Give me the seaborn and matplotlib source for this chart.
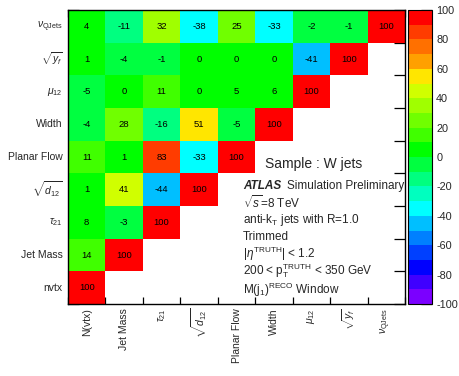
import numpy as np
import pandas as pd
import matplotlib
matplotlib.use("Agg")
import matplotlib.pyplot as plt
from matplotlib.colors import ListedColormap
import seaborn as sns

sns.set_style("white")
plt.rcParams['font.family'] = ['Liberation Sans', 'DejaVu Sans']
plt.rcParams['mathtext.fontset'] = 'custom'
plt.rcParams['mathtext.rm'] = 'Liberation Sans'
plt.rcParams['mathtext.it'] = 'Liberation Sans:italic'
plt.rcParams['mathtext.bf'] = 'Liberation Sans:bold'
plt.rcParams['axes.unicode_minus'] = False

# ---- data ----
row_labels = [r'$\nu_{\mathrm{QJets}}$', r'$\sqrt{y_{f}}$', r'$\mu_{12}$', 'Width',
              'Planar Flow', r'$\sqrt{d_{12}}$', r'$\tau_{21}$', 'Jet Mass', 'nvtx']
col_labels = ['N(vtx)', 'Jet Mass', r'$\tau_{21}$', r'$\sqrt{d_{12}}$', 'Planar Flow',
              'Width', r'$\mu_{12}$', r'$\sqrt{y_{f}}$', r'$\nu_{\mathrm{QJets}}$']

row_nu = [4, -11, 32, -38, 25, -33, -2, -1, 100]
row_yf = [1, -4, -1, 0, 0, 0, -41, 100]
row_mu = [-5, 0, 11, 0, 5, 6, 100]
row_width = [-4, 28, -16, 51, -5, 100]
row_pf = [11, 1, 83, -33, 100]
row_d12 = [1, 41, -44, 100]
row_tau = [8, -3, 100]
row_mass = [14, 100]
row_nvtx = [100]

rows = [row_nu, row_yf, row_mu, row_width, row_pf, row_d12, row_tau, row_mass, row_nvtx]
n = len(col_labels)
mat = np.full((len(rows), n), np.nan)
for i, r in enumerate(rows):
    mat[i, :len(r)] = r
df = pd.DataFrame(mat, index=row_labels, columns=col_labels)
mask = np.isnan(mat)

palette = ['#7B00FF', '#3F00FF', '#0000FF', '#0040FF', '#0080FF', '#00BFFF',
           '#00FFFF', '#00FFBF', '#00FF80', '#00FF40', '#00FF00', '#40FF00',
           '#70FF00', '#A0FF00', '#D0FF00', '#FFE600', '#FFA000', '#FF7000',
           '#FF3C00', '#FF0000']
cmap = ListedColormap(palette)

W, H = 459, 376
fig = plt.figure(figsize=(W / 100, H / 100), dpi=100)
ax = fig.add_axes([68 / W, 1 - 304 / H, (405 - 68) / W, (304 - 10) / H])
cax = fig.add_axes([408 / W, 1 - 304 / H, 24 / W, 294 / H])

sns.heatmap(df, mask=mask, cmap=cmap, vmin=-100, vmax=100, annot=True, fmt='.0f',
            annot_kws={'size': 6.8, 'color': 'black'}, cbar_ax=cax, ax=ax,
            linewidths=0)

ax.set_xticklabels(col_labels, rotation=90, fontsize=7.5)
ax.set_yticklabels(row_labels, rotation=0, fontsize=7.5)
ax.set_xlabel('')
ax.set_ylabel('')
ax.tick_params(which='major', length=0)
ax.tick_params(axis='x', which='major', pad=3)
ax.tick_params(axis='y', which='major', pad=4)
ax.set_xticks(np.arange(n + 1), minor=True)
ax.set_yticks(np.arange(len(rows) + 1), minor=True)
ax.tick_params(which='minor', direction='in', top=True, right=True, bottom=True, left=True,
               width=0.9, color='black')
ax.xaxis.set_tick_params(which='minor', length=5)
ax.yaxis.set_tick_params(which='minor', length=8)
for s in ax.spines.values():
    s.set_visible(True)
    s.set_linewidth(1.0)
    s.set_color('black')

cbar = ax.collections[0].colorbar
cbar.set_ticks(list(range(-100, 101, 20)))
cbar.outline.set_linewidth(0.8)
cbar.outline.set_edgecolor('black')
cax.tick_params(direction='in', length=8, width=0.9, labelsize=7.8, right=True, left=False,
                pad=3, color='black')

def px(x, y):
    return x / W, 1 - y / H

fig.text(*px(265, 164), 'Sample : W jets', fontsize=10, va='center', ha='left')
fig.text(*px(243, 186), 'ATLAS', fontsize=8.5, fontweight='bold', fontstyle='italic',
         va='center', ha='left')
fig.text(*px(287, 186), 'Simulation Preliminary', fontsize=8.5, va='center', ha='left')
lines = [(203, r'$\sqrt{s}$=8 TeV'),
         (220, r'anti-k$_{\mathrm{T}}$ jets with R=1.0'),
         (237, 'Trimmed'),
         (254, r'|$\eta^{\mathrm{TRUTH}}$| < 1.2'),
         (271, r'200 < p$_{\mathrm{T}}^{\mathrm{TRUTH}}$ < 350 GeV'),
         (290, r'M(j$_{1}$)$^{\mathrm{RECO}}$ Window')]
for y, t in lines:
    fig.text(*px(243, y), t, fontsize=8.5, va='center', ha='left')

fig.savefig('out.png', dpi=100)
